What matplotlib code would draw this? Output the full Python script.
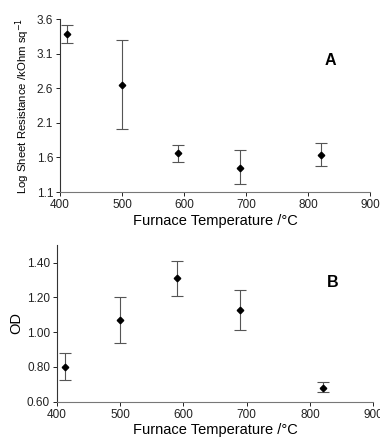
import matplotlib
matplotlib.use("Agg")
import matplotlib.pyplot as plt

# furnace temperature (deg C)
TEMP = [412, 500, 590, 690, 820]

# panel A: log sheet resistance, with asymmetric-looking bars read as top/bottom
RES = [3.39, 2.65, 1.66, 1.45, 1.64]
RES_HI = [3.52, 3.30, 1.78, 1.71, 1.81]
RES_LO = [3.25, 2.01, 1.54, 1.21, 1.48]

# panel B: optical density
OD = [0.80, 1.07, 1.31, 1.13, 0.68]
OD_HI = [0.88, 1.20, 1.41, 1.24, 0.715]
OD_LO = [0.725, 0.94, 1.21, 1.01, 0.655]

XTICKS = [400, 500, 600, 700, 800, 900]
A_YTICKS = [1.1, 1.6, 2.1, 2.6, 3.1, 3.6]
B_YTICKS = [0.60, 0.80, 1.00, 1.20, 1.40]

plt.rcParams.update({"font.family": ["Liberation Sans", "DejaVu Sans"]})
fig = plt.figure(figsize=(3.8, 4.41), dpi=100)
axA = fig.add_axes([0.158, 0.5646, 0.816, 0.392])
axB = fig.add_axes([0.150, 0.0891, 0.832, 0.355])


def panel(ax, y, hi, lo, yticks, ylim, fmt, ylabel, tag):
    err = [[v - l for v, l in zip(y, lo)], [h - v for v, h in zip(y, hi)]]
    ax.errorbar(TEMP, y, yerr=err, fmt="D", color="black", ms=3.3,
                ecolor="#555555", elinewidth=0.8, capsize=4.3, capthick=0.8)
    ax.set_xlim(400, 900)
    ax.set_ylim(*ylim)
    ax.set_xticks(XTICKS)
    ax.set_yticks(yticks)
    ax.set_yticklabels([fmt.format(t) for t in yticks])
    ax.tick_params(labelsize=8.5, length=3, width=0.7, pad=2, colors="#222222")
    for s in ("top", "right"):
        ax.spines[s].set_visible(False)
    ax.spines["left"].set_color("#333333")
    ax.spines["bottom"].set_color("#777777")
    ax.spines["left"].set_linewidth(0.8)
    ax.spines["bottom"].set_linewidth(0.8)
    ax.set_xlabel("Furnace Temperature /°C", fontsize=10.5, labelpad=2)
    ax.set_ylabel(ylabel, fontsize=8.2 if tag == "A" else 10.5, labelpad=3)
    ax.text(0.873, 0.76, tag, transform=ax.transAxes, fontsize=11.5,
            fontweight="bold", ha="center", va="center")


panel(axA, RES, RES_HI, RES_LO, A_YTICKS, (1.1, 3.6), "{:.1f}",
      "Log Sheet Resistance /kOhm sq$^{-1}$", "A")
panel(axB, OD, OD_HI, OD_LO, B_YTICKS, (0.6, 1.5), "{:.2f}", "OD", "B")

fig.savefig("out.png", dpi=100)
